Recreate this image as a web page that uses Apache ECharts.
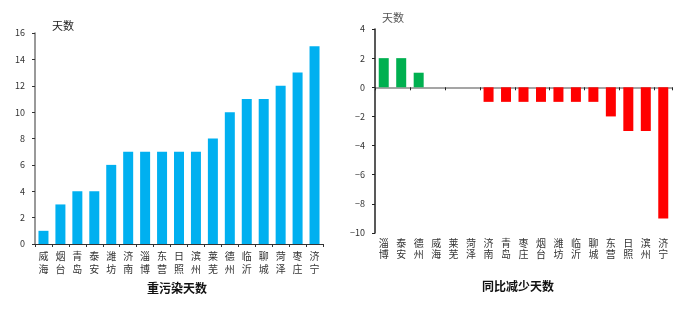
<!DOCTYPE html>
<html><head><meta charset="utf-8">
<script src="https://cdn.jsdelivr.net/npm/echarts@6/dist/echarts.min.js"></script>
<style>html,body{margin:0;padding:0;background:#fff}#c{width:693px;height:323px}</style>
</head><body><div id="c"></div>
<script>
const leftCats = ['威海','烟台','青岛','泰安','潍坊','济南','淄博','东营','日照','滨州','莱芜','德州','临沂','聊城','菏泽','枣庄','济宁'];
const leftVals = [1,3,4,4,6,7,7,7,7,7,8,10,11,11,12,13,15];
const rightCats = ['淄博','泰安','德州','威海','莱芜','菏泽','济南','青岛','枣庄','烟台','潍坊','临沂','聊城','东营','日照','滨州','济宁'];
const rightVals = [2,2,1,0,0,0,-1,-1,-1,-1,-1,-1,-1,-2,-3,-3,-9];
const leftTicks = [0,2,4,6,8,10,12,14,16];
const rightTicks = [-10,-8,-6,-4,-2,0,2,4];

const font = '"Noto Sans CJK SC", "Noto Sans", sans-serif';
const vert = v => v.split('').join('\n');
const chart = echarts.init(document.getElementById('c'), null, {renderer:'canvas'});
chart.setOption({
  animation:false,
  textStyle:{fontFamily:font},
  title:[
    {text:'天数', left:47, top:15, textStyle:{fontSize:11, fontWeight:'normal', color:'#222', fontFamily:font}},
    {text:'天数', left:377, top:7, textStyle:{fontSize:11, fontWeight:'normal', color:'#555', fontFamily:font}},
    {text:'重污染天数', left:172, top:277, textAlign:'center', textStyle:{fontSize:12, fontWeight:'bold', color:'#111', fontFamily:font}},
    {text:'同比减少天数', left:513, top:275, textAlign:'center', textStyle:{fontSize:12, fontWeight:'bold', color:'#111', fontFamily:font}}
  ],
  grid:[
    {left:35, top:33, width:288, height:211},
    {left:375, top:29, width:297, height:204}
  ],
  xAxis:[
    {gridIndex:0, type:'category', data:leftCats,
     axisLine:{lineStyle:{color:'#333'}}, axisTick:{show:true, length:3, lineStyle:{color:'#333'}},
     axisLabel:{formatter:vert, fontSize:10, color:'#333', lineHeight:13, margin:6, interval:0}},
    {gridIndex:1, type:'category', data:rightCats, position:'bottom',
     axisLine:{show:false, onZero:false}, axisTick:{show:false},
     axisLabel:{formatter:vert, fontSize:10, color:'#333', lineHeight:11, margin:5, interval:0}},
    {gridIndex:1, type:'category', data:rightCats,
     axisLine:{onZero:true, lineStyle:{color:'#888', width:1.5}},
     axisTick:{show:true, length:3, inside:true, lineStyle:{color:'#222'}},
     axisLabel:{show:false}}
  ],
  yAxis:[
    {gridIndex:0, type:'value', min:0, max:16, interval:2,
     axisLine:{show:true, lineStyle:{color:'#777', width:1.5}}, axisTick:{show:true, length:3, lineStyle:{color:'#333'}},
     splitLine:{show:false}, axisLabel:{fontSize:9, color:'#333', margin:10}},
    {gridIndex:1, type:'value', min:-10, max:4, interval:2,
     axisLine:{show:true, lineStyle:{color:'#222', width:1.5}}, axisTick:{show:true, length:3, lineStyle:{color:'#222'}},
     splitLine:{show:false}, axisLabel:{fontSize:9, color:'#333', margin:10,
       formatter:v=>v<0?'\u2212'+Math.abs(v):String(v)}}
  ],
  series:[
    {type:'bar', xAxisIndex:0, yAxisIndex:0, data:leftVals, barWidth:10, itemStyle:{color:'#00B0F0'}},
    {type:'bar', xAxisIndex:1, yAxisIndex:1, barWidth:10,
     data:rightVals.map(v=>({value:v, itemStyle:{color:v>0?'#00B050':'#FF0000'}}))}
  ]
});
</script></body></html>
